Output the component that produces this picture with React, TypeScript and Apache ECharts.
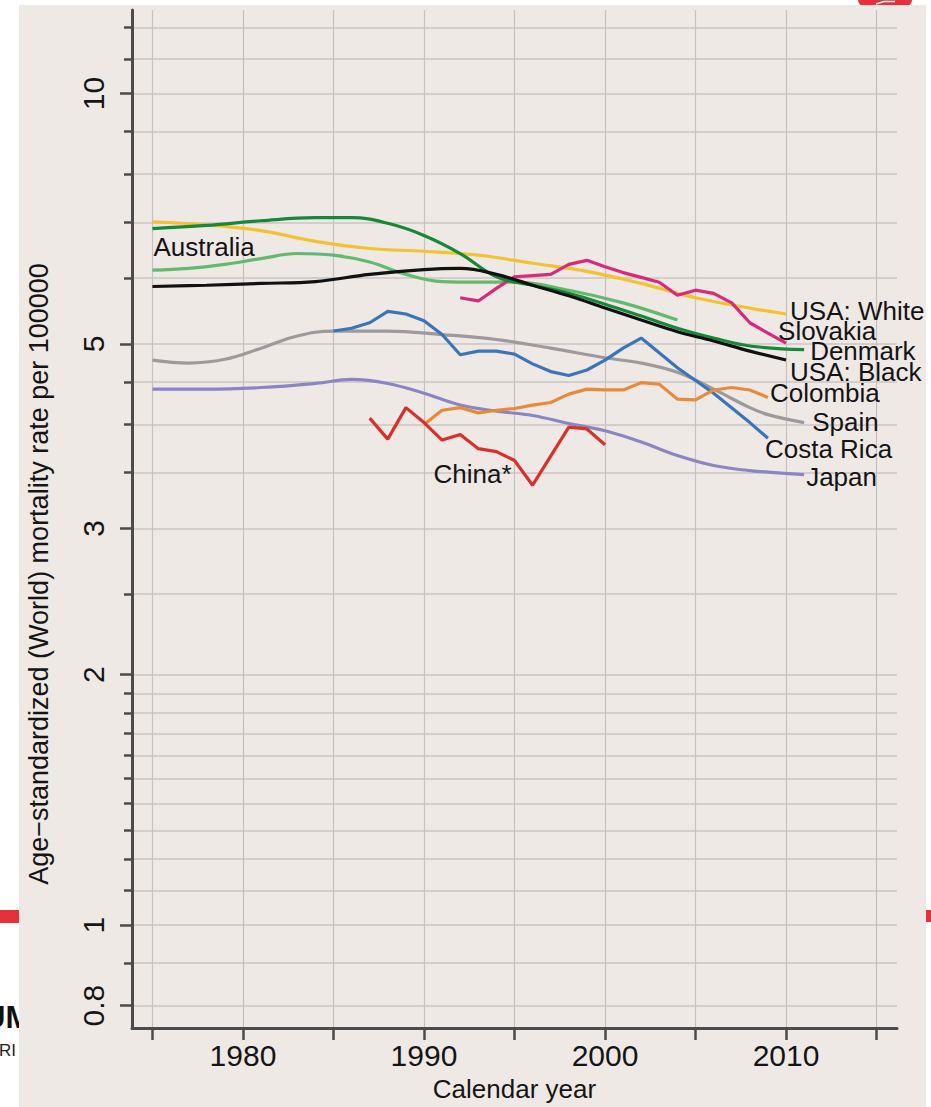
import React, { useEffect, useRef } from "react";
import * as echarts from "echarts";

const FONT = '"Liberation Sans", Arial, Helvetica, sans-serif';

// ---- axes ----
const X_MIN = 1973.87;
const X_MAX = 2016.13;
const Y_MIN = 0.752;
const Y_MAX = 12.6;
const xTickYears = [1975, 1980, 1985, 1990, 1995, 2000, 2005, 2010, 2015];
const xLabelYears = [1980, 1990, 2000, 2010];
const yLabeledTicks = [0.8, 1, 2, 3, 5, 10];
const yMinorTicks = [0.9, 1.1, 1.2, 1.3, 1.4, 1.5, 1.6, 1.7, 1.8, 1.9, 2.5, 3.5, 4, 4.5, 6, 7, 8, 9, 11, 12];
const X_TITLE = "Calendar year";
const Y_TITLE = "Age\u2212standardized (World) mortality rate per 100000";

// ---- series data (age-standardized rate per 100000) ----
const usaWhiteYears = [1975, 1978, 1981, 1984, 1987, 1990, 1993, 1996, 1999, 2002, 2005, 2008, 2010];
const usaWhiteValues = [7.01, 6.95, 6.84, 6.64, 6.51, 6.46, 6.39, 6.25, 6.11, 5.91, 5.68, 5.52, 5.43];

const denmarkYears = [1975, 1978, 1981, 1984, 1986, 1988, 1990, 1992, 1994, 1996, 1998, 2000, 2002, 2004, 2006, 2008, 2011];
const denmarkValues = [6.88, 6.94, 7.03, 7.09, 7.09, 6.98, 6.75, 6.42, 6.02, 5.88, 5.75, 5.58, 5.40, 5.22, 5.08, 4.97, 4.92];

const usaBlackYears = [1975, 1978, 1981, 1984, 1987, 1990, 1992, 1994, 1996, 1998, 2000, 2002, 2004, 2006, 2008, 2010];
const usaBlackValues = [5.86, 5.88, 5.91, 5.94, 6.06, 6.14, 6.16, 6.06, 5.88, 5.71, 5.52, 5.34, 5.17, 5.04, 4.90, 4.78];

const australiaYears = [1975, 1977, 1979, 1981, 1983, 1985, 1987, 1989, 1991, 1993, 1995, 1998, 2001, 2004];
const australiaValues = [6.13, 6.16, 6.23, 6.33, 6.42, 6.39, 6.27, 6.06, 5.94, 5.93, 5.93, 5.80, 5.60, 5.34];

const slovakiaYears = [1992, 1993, 1994, 1995, 1996, 1997, 1998, 1999, 2000, 2001, 2002, 2003, 2004, 2005, 2006, 2007, 2008, 2009, 2010];
const slovakiaValues = [5.68, 5.63, 5.83, 6.02, 6.04, 6.06, 6.23, 6.30, 6.19, 6.09, 6.01, 5.93, 5.72, 5.80, 5.75, 5.60, 5.30, 5.15, 5.01];

const spainYears = [1975, 1977, 1979, 1981, 1983, 1985, 1988, 1991, 1994, 1997, 2000, 2002, 2004, 2006, 2008, 2009, 2011];
const spainValues = [4.78, 4.74, 4.79, 4.94, 5.11, 5.18, 5.18, 5.13, 5.06, 4.94, 4.81, 4.74, 4.62, 4.41, 4.19, 4.11, 4.02];

const costaRicaYears = [1985, 1986, 1987, 1988, 1989, 1990, 1991, 1992, 1993, 1994, 1995, 1996, 1997, 1998, 1999, 2000, 2001, 2002, 2004, 2006, 2008, 2009];
const costaRicaValues = [5.18, 5.22, 5.30, 5.47, 5.43, 5.33, 5.13, 4.85, 4.90, 4.90, 4.86, 4.73, 4.63, 4.58, 4.65, 4.78, 4.94, 5.08, 4.68, 4.36, 4.02, 3.85];

const colombiaYears = [1990, 1991, 1992, 1993, 1994, 1995, 1996, 1997, 1998, 1999, 2000, 2001, 2002, 2003, 2004, 2005, 2006, 2007, 2008, 2009];
const colombiaValues = [4.00, 4.16, 4.19, 4.13, 4.16, 4.18, 4.22, 4.25, 4.35, 4.41, 4.40, 4.40, 4.49, 4.47, 4.29, 4.28, 4.40, 4.43, 4.40, 4.31];

const japanYears = [1975, 1978, 1981, 1984, 1986, 1988, 1990, 1992, 1994, 1996, 1998, 2000, 2002, 2004, 2006, 2008, 2011];
const japanValues = [4.41, 4.41, 4.43, 4.48, 4.53, 4.48, 4.36, 4.22, 4.15, 4.10, 4.01, 3.93, 3.81, 3.67, 3.57, 3.52, 3.48];

const chinaYears = [1987, 1988, 1989, 1990, 1991, 1992, 1993, 1994, 1995, 1996, 1998, 1999, 2000];
const chinaValues = [4.07, 3.84, 4.19, 4.02, 3.83, 3.89, 3.74, 3.71, 3.62, 3.38, 3.97, 3.95, 3.78];

// label anchors for the two labels that are not at a line end (data coordinates)
const australiaLabelAt = [1975.03, 6.53];
const chinaLabelAt = [1990.5, 3.487];

const L = (v: number) => Math.log10(v);
const fmt = (v: number) => String(Number(Math.pow(10, v).toPrecision(3)));

type Def = {
  name: string;
  years: number[];
  values: number[];
  color: string;
  smooth: boolean;
  endLabel?: { offset: number[]; distance: number };
  pointLabel?: number[];
};

const defs: Def[] = [
  { name: "Spain", years: spainYears, values: spainValues, color: "#9c9a9a", smooth: true, endLabel: { offset: [4, -1], distance: 4 } },
  { name: "Japan", years: japanYears, values: japanValues, color: "#8a86c2", smooth: true, endLabel: { offset: [-2, 2], distance: 4 } },
  { name: "Costa Rica", years: costaRicaYears, values: costaRicaValues, color: "#3b74b9", smooth: false, endLabel: { offset: [-7, 11], distance: 4 } },
  { name: "Colombia", years: colombiaYears, values: colombiaValues, color: "#e88a3c", smooth: false, endLabel: { offset: [-2, -4], distance: 4 } },
  { name: "China*", years: chinaYears, values: chinaValues, color: "#d8302c", smooth: false, pointLabel: chinaLabelAt },
  { name: "Australia", years: australiaYears, values: australiaValues, color: "#63b96f", smooth: true, pointLabel: australiaLabelAt },
  { name: "USA: White", years: usaWhiteYears, values: usaWhiteValues, color: "#f1c232", smooth: true, endLabel: { offset: [0, -3], distance: 4 } },
  { name: "Slovakia", years: slovakiaYears, values: slovakiaValues, color: "#d8297c", smooth: false, endLabel: { offset: [-12, -12], distance: 4 } },
  { name: "Denmark", years: denmarkYears, values: denmarkValues, color: "#18873a", smooth: true, endLabel: { offset: [2, 1], distance: 4 } },
  { name: "USA: Black", years: usaBlackYears, values: usaBlackValues, color: "#111111", smooth: true, endLabel: { offset: [0, 12], distance: 4 } },
];

const labelText = { color: "#141414", fontSize: 26, fontFamily: FONT };

function buildOption(): any {
  const series = defs.map((d) => {
    const s: any = {
      name: d.name,
      type: "line",
      xAxisIndex: 0,
      yAxisIndex: 0,
      symbol: "none",
      smooth: d.smooth ? 0.4 : false,
      lineStyle: { color: d.color, width: 3.2 },
      itemStyle: { color: d.color },
      data: d.years.map((y, i) => [y, L(d.values[i])]),
      silent: true,
      z: 3,
    };
    if (d.endLabel) {
      s.endLabel = {
        show: true,
        formatter: d.name,
        offset: d.endLabel.offset,
        distance: d.endLabel.distance,
        ...labelText,
      };
    }
    if (d.pointLabel) {
      s.markPoint = {
        symbol: "circle",
        symbolSize: 1,
        silent: true,
        itemStyle: { color: "rgba(0,0,0,0)" },
        label: { show: true, position: "right", distance: 0, formatter: d.name, ...labelText },
        data: [{ coord: [d.pointLabel[0], L(d.pointLabel[1])] }],
      };
    }
    return s;
  });

  const axisColor = "#4b4b4b";
  const tickLabel = { color: "#151515", fontSize: 30, fontFamily: FONT };

  return {
    animation: false,
    backgroundColor: "transparent",
    grid: { left: 132, right: 34, top: 10, bottom: 75, containLabel: false },
    xAxis: {
      type: "value",
      min: X_MIN,
      max: X_MAX,
      axisLine: { show: true, onZero: false, lineStyle: { color: axisColor, width: 3 } },
      axisTick: { show: true, customValues: xTickYears, length: 12, lineStyle: { color: axisColor, width: 2.5 } },
      axisLabel: { show: true, customValues: xLabelYears, margin: 12, formatter: (v: number) => String(v), ...tickLabel },
      splitLine: { show: true, lineStyle: { color: "#c6c1be", width: 1.2 } },
      name: X_TITLE,
      nameLocation: "middle",
      nameGap: 48,
      nameTextStyle: { color: "#151515", fontSize: 26, fontFamily: FONT },
    },
    yAxis: [
      {
        type: "value",
        min: L(Y_MIN),
        max: L(Y_MAX),
        position: "left",
        axisLine: { show: true, onZero: false, lineStyle: { color: axisColor, width: 3 } },
        axisTick: { show: true, customValues: yLabeledTicks.map(L), length: 12, lineStyle: { color: axisColor, width: 2.5 } },
        axisLabel: { show: true, customValues: yLabeledTicks.map(L), rotate: 90, margin: 24, formatter: fmt, ...tickLabel },
        splitLine: { show: true, lineStyle: { color: "#d4cecb", width: 2 } },
      },
      {
        type: "value",
        min: L(Y_MIN),
        max: L(Y_MAX),
        position: "left",
        offset: 0,
        axisLine: { show: false },
        axisTick: { show: true, customValues: yMinorTicks.map(L), length: 8, lineStyle: { color: axisColor, width: 2.5 } },
        axisLabel: { show: false },
        splitLine: { show: true, lineStyle: { color: "#d4cecb", width: 2 } },
      },
    ],
    graphic: [
      // cut-off fragments of the page behind the chart
      { type: "text", z: -30, x: -17, y: 1017, style: { text: "UM", fontSize: 31, fontWeight: "bold", fontFamily: FONT, fill: "#111", align: "left", verticalAlign: "middle" } },
      { type: "text", z: -30, x: -1, y: 1050, style: { text: "RI", fontSize: 17, fontFamily: FONT, fill: "#222", align: "left", verticalAlign: "middle" } },
      { type: "rect", z: -30, shape: { x: 0, y: 910, width: 19, height: 13 }, style: { fill: "#e6303a" } },
      { type: "rect", z: -30, shape: { x: 926, y: 910, width: 5, height: 12 }, style: { fill: "#e6303a" } },
      { type: "rect", z: -30, shape: { x: 858, y: -6, width: 54, height: 12, r: 6 }, style: { fill: "#e6303a" } },
      { type: "polyline", z: -25, shape: { points: [[876, 4], [884, 1.5], [895, 1.5]] }, style: { stroke: "#ffffff", lineWidth: 1.5, fill: null } },
      // chart background
      { type: "rect", z: -20, shape: { x: 19, y: 5, width: 907, height: 1102 }, style: { fill: "#efe9e6" } },
      // y-axis title
      {
        type: "text",
        z: 5,
        x: 39,
        y: 574,
        rotation: Math.PI / 2,
        style: { text: Y_TITLE, fontSize: 27, fontFamily: FONT, fill: "#151515", align: "center", verticalAlign: "middle" },
      },
    ],
    series,
  };
}

export default function App() {
  const ref = useRef<HTMLDivElement>(null);
  useEffect(() => {
    if (!ref.current) return;
    document.body.style.margin = "0";
    const chart = echarts.init(ref.current, undefined, { renderer: "svg" });
    chart.setOption(buildOption());
    return () => chart.dispose();
  }, []);
  return (
    <div
      ref={ref}
      style={{ position: "fixed", left: 0, top: 0, width: 931, height: 1107, background: "#ffffff" }}
    />
  );
}
